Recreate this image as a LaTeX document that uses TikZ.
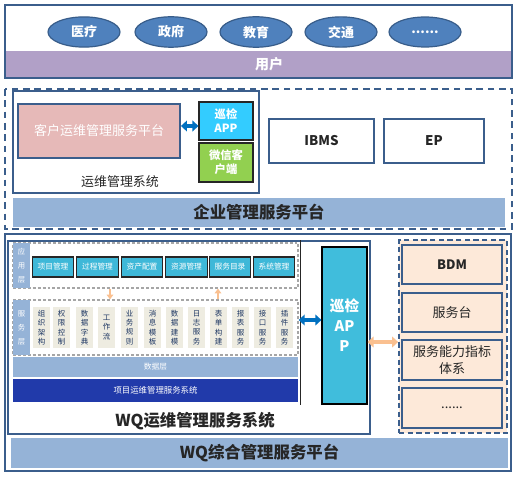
\documentclass[tikz,border=0pt]{standalone}
\usepackage{fontspec}
\setmainfont{Noto Sans CJK SC}
\usepackage{xcolor}
\usetikzlibrary{arrows.meta,shapes.geometric}

\definecolor{edgeblue}{RGB}{59,94,140}
\definecolor{bandblue}{RGB}{149,179,215}
\definecolor{userpurple}{RGB}{177,160,199}
\definecolor{ovalblue}{RGB}{79,129,189}
\definecolor{ovaledge}{RGB}{56,93,138}
\definecolor{pinkfill}{RGB}{230,185,184}
\definecolor{appcyan}{RGB}{51,204,255}
\definecolor{wxgreen}{RGB}{146,208,80}
\definecolor{darktext}{RGB}{38,38,38}
\definecolor{modcyan}{RGB}{62,184,216}
\definecolor{svcbeige}{RGB}{238,236,225}
\definecolor{svctext}{RGB}{31,56,100}
\definecolor{royal}{RGB}{33,58,170}
\definecolor{bigcyan}{RGB}{64,189,220}
\definecolor{peach}{RGB}{253,233,217}
\definecolor{arrowblue}{RGB}{0,112,192}
\definecolor{arroworange}{RGB}{250,192,144}
\definecolor{dashgray}{RGB}{166,166,166}

\tikzset{
  sz/.style 2 args={minimum width=#1*0.75pt,minimum height=#2*0.75pt},
  frame/.style={draw=edgeblue,line width=1.3pt},
  dashframe/.style={draw=edgeblue,line width=1.2pt,dash pattern=on 5pt off 3.5pt},
  blk/.style={inner sep=0pt,draw=edgeblue,line width=1.4pt,align=center},
  oval/.style={ellipse,draw=ovaledge,line width=0.9pt,fill=ovalblue,text=white,minimum width=54pt,minimum height=22.5pt,font=\bfseries\fontsize{9.75pt}{11pt}\selectfont},
  band/.style={inner sep=0pt,fill=bandblue,text=darktext,font=\bfseries\fontsize{12.3pt}{14pt}\selectfont},
  smallapp/.style={inner sep=0pt,draw=darktext,line width=0.8pt,text=white,align=center,font=\bfseries\fontsize{8.5pt}{10.5pt}\selectfont},
  graybox/.style={inner sep=0pt,draw=dashgray,line width=1pt,dash pattern=on 2.2pt off 1.5pt},
  layerlbl/.style={inner sep=0pt,fill=bandblue,text=white,align=center,font=\fontsize{5.5pt}{10.5pt}\selectfont},
  module/.style={inner sep=0pt,draw=darktext,line width=0.8pt,fill=modcyan,text=white,sz={41.5}{20},font=\fontsize{5.8pt}{7pt}\selectfont},
  svc/.style={inner sep=0pt,fill=svcbeige,text=svctext,align=center,sz={17}{41},font=\fontsize{5.6pt}{7pt}\selectfont},
  ritem/.style={blk,fill=peach,text=darktext,sz={100}{39.5},font=\fontsize{9.75pt}{12.5pt}\selectfont},
  dblarr/.style={line width=2.4pt,{Triangle[length=4.5pt,width=8pt]}-{Triangle[length=4.5pt,width=8pt]}},
  smallarr/.style={draw=arroworange,line width=1.6pt,-{Triangle[length=3.5pt,width=5pt]}}
}

\begin{document}
\begin{tikzpicture}[x=0.75pt,y=0.75pt,yscale=-1,xscale=1]
\useasboundingbox (0,0) rectangle (521,477);

%Users
\fill[userpurple] (5,51) rectangle (512,78);
\draw[frame] (5,5) rectangle (512,78);
\node[text=white,font=\bfseries\fontsize{10.5pt}{12pt}\selectfont] (yh) at (269,64) {用户};
\node[oval] (yl) at (84,32) {医疗};
\node[oval] (zf) at (171,32) {政府};
\node[oval] (jy) at (256,32) {教育};
\node[oval] (jt) at (341,32) {交通};
\node[oval] (yhmore) at (425,32) {......};

%Enterprise platform
\draw[dashframe] (5,89) rectangle (512,229);
\node[blk,sz={246}{102}] (ywsys) at (136,142) {};
\node[blk,fill=pinkfill,text=white,sz={162}{54},font=\fontsize{9.75pt}{11pt}\selectfont] (khpt) at (99,131) {客户运维管理服务平台};
\node[smallapp,fill=appcyan,sz={54}{38}] (xjapp) at (226,121) {巡检\\APP};
\node[smallapp,fill=wxgreen,sz={54}{39}] (wxkh) at (226,162.5) {微信客\\户端};
\node[text=darktext,font=\fontsize{9.7pt}{11pt}\selectfont] (ywlbl) at (120,182) {运维管理系统};
\node[blk,fill=white,text=darktext,sz={105}{44},font=\bfseries\fontsize{10pt}{12pt}\selectfont] (ibms) at (321.5,141) {IBMS};
\node[blk,fill=white,text=darktext,sz={100}{44},font=\bfseries\fontsize{10pt}{12pt}\selectfont] (ep) at (434,141) {EP};
\node[band,sz={492}{29}] (qypt) at (259,212.5) {企业管理服务平台};
\draw[dblarr,arrowblue] (khpt.east |- 0,126) -- (xjapp.west |- 0,126);

%WQ platform
\draw[frame] (5,234) rectangle (511,471);
\node[blk,sz={362}{193}] (wqsys) at (189,337.5) {};
\draw[darktext,line width=0.6pt] (wqsys.north -| 300,0) -- (300,405);

%Application layer
\node[graybox,sz={285}{45}] (yyc) at (155.5,265.5) {};
\node[layerlbl,sz={17}{45}] (yyclbl) at (21.5,265.5) {应\\用\\层};
\node[module] (xmgl) at (53,267) {项目管理};
\node[module] (gcgl) at (97.5,267) {过程管理};
\node[module] (zcpz) at (142,267) {资产配置};
\node[module] (zygl) at (186.5,267) {资源管理};
\node[module] (fwml) at (230,267) {服务目录};
\node[module] (xtgl) at (274,267) {系统管理};

%Service layer
\node[graybox,sz={285}{55}] (fwc) at (155.5,327.5) {};
\node[layerlbl,sz={17}{55}] (fwclbl) at (21.5,327.5) {服\\务\\层};
\node[svc] (zzjg) at (41.5,327.5) {组\\织\\架\\构};
\node[svc] (qxkz) at (61.5,327.5) {权\\限\\控\\制};
\node[svc] (sjzd) at (84.5,327.5) {数\\据\\字\\典};
\node[svc] (gzl) at (106.5,327.5) {工\\作\\流};
\node[svc] (ywgz) at (129.5,327.5) {业\\务\\规\\则};
\node[svc] (xxmb) at (152.5,327.5) {消\\息\\模\\板};
\node[svc] (sjjm) at (174.5,327.5) {数\\据\\建\\模};
\node[svc] (rzfw) at (196.5,327.5) {日\\志\\服\\务};
\node[svc] (bdgj) at (218.5,327.5) {表\\单\\构\\建};
\node[svc] (bbfw) at (240.5,327.5) {报\\表\\服\\务};
\node[svc] (jkfw) at (262.5,327.5) {接\\口\\服\\务};
\node[svc] (cjfw) at (284.5,327.5) {插\\件\\服\\务};

\draw[smallarr] (yyc.south -| 110,0) -- (fwc.north -| 110,0);
\draw[smallarr] (fwc.north -| 218,0) -- (yyc.south -| 218,0);

%Data layer
\node[inner sep=0pt,fill=bandblue,text=white,sz={285}{20},font=\fontsize{5.8pt}{7pt}\selectfont] (sjc) at (155.5,367) {数据层};
\node[inner sep=0pt,fill=royal,text=white,sz={285}{23},font=\fontsize{6.3pt}{8pt}\selectfont] (xmxt) at (155.5,390.5) {项目运维管理服务系统};

%Inspection app
\node[inner sep=0pt,draw=black,line width=0.9pt,fill=bigcyan,text=white,align=center,sz={45}{157},font=\bfseries\fontsize{11pt}{15pt}\selectfont] (xjbig) at (344.5,325.5) {巡检\\AP\\P};
\draw[dblarr,arrowblue] (fwc.east |- 0,320) -- (xjbig.west |- 0,320);
\node[text=darktext,font=\bfseries\fontsize{12.3pt}{14pt}\selectfont] (wqlbl) at (195,421) {WQ运维管理服务系统};

%Right column
\node[inner sep=0pt,fill=peach,draw=edgeblue,line width=1.3pt,dash pattern=on 4pt off 2.5pt,sz={108}{193}] (rcol) at (453,336.5) {};
\node[ritem] (bdm) at (452,264.5) {\bfseries BDM};
\node[ritem] (fwt) at (452,312.5) {服务台};
\node[ritem] (nlzb) at (452,360) {服务能力指标\\体系};
\node[ritem] (rmore) at (452,408) {......};
\draw[dblarr,arroworange] (xjbig.east |- 0,342) -- (rcol.west |- 0,342);

\node[band,sz={497}{30}] (wqpt) at (259.5,453) {WQ综合管理服务平台};

\end{tikzpicture}
\end{document}
